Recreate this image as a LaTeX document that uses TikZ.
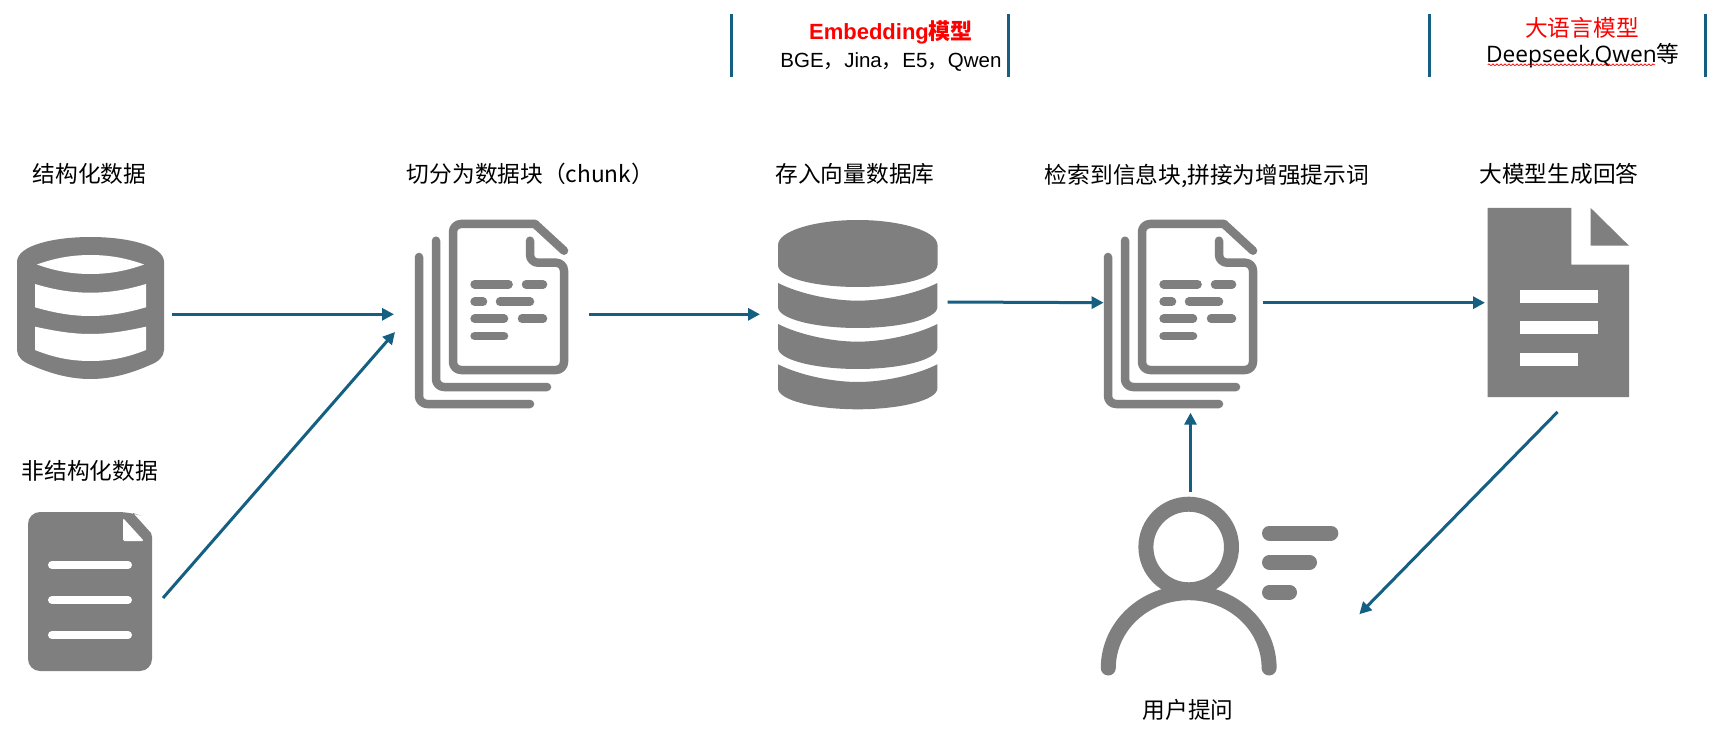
\documentclass[tikz,border=0pt]{standalone}
\usepackage{fontspec}
\setmainfont{Noto Sans CJK SC}
\newfontfamily\arf{Liberation Sans}
\newfontfamily\osf{Open Sans}
\usetikzlibrary{arrows.meta,decorations.pathmorphing}
\definecolor{flow}{HTML}{156082}
\definecolor{icon}{HTML}{7F7F7F}
\tikzset{
  flowline/.style={draw=flow,line width=3pt,-{Triangle[length=12pt,width=12pt]}},
  divider/.style={draw=flow,line width=3pt},
  iconline/.style={draw=icon,line width=8.5pt,line cap=round,line join=round},
  label/.style={inner sep=0pt,anchor=base,text=black,font=\fontsize{22.7}{27}\selectfont},
  redlabel/.style={label,text=red},
  pics/docstack/.style={code={
    \begin{scope}[yscale=-1]
    \draw[iconline,rounded corners=8pt] (117,40.7) -- (117,62.7) -- (151,62.7) -- (151,170) -- (40,170) -- (40,24) -- (122,24);
    \draw[iconline] (122,24) -- (151,50.7);
    \draw[iconline,rounded corners=8pt] (23,40.7) -- (23,187) -- (134,187);
    \draw[iconline,rounded corners=8pt] (6,57) -- (6,204) -- (117,204);
    \draw[iconline] (61.6,84.3) -- (95.6,84.3) (113,84.3) -- (130,84.3)
      (61.6,101.7) -- (70,101.7) (87,101.7) -- (117,101.7)
      (61.6,118.7) -- (91,118.7) (109,118.7) -- (130,118.7)
      (61.6,136) -- (91,136);
    \end{scope}
  }},
  pics/dbband/.style={code={
    \begin{scope}[yscale=-1]
    \fill[icon] (-79.7,0) .. controls (-58,11) and (-25,17.7) .. (0,17.7)
      .. controls (25,17.7) and (58,11) .. (79.7,0) -- (79.7,24)
      .. controls (79.7,36) and (42,45) .. (0,45)
      .. controls (-42,45) and (-79.7,36) .. (-79.7,24) -- cycle;
    \end{scope}
  }}
}
\begin{document}
\begin{tikzpicture}[x=1pt,y=1pt,yscale=-1]
\useasboundingbox (0,0) rectangle (1730,735);
\fill[white] (0,0) rectangle (1730,735);

% dividers
\coordinate (d1a) at (731.3,14.3); \coordinate (d1b) at (731.3,76.7);
\coordinate (d2a) at (1008.3,14.3); \coordinate (d2b) at (1008.3,76.7);
\coordinate (d3a) at (1429.3,14.3); \coordinate (d3b) at (1429.3,76.7);
\coordinate (d4a) at (1705.3,14.3); \coordinate (d4b) at (1705.3,76.7);
\draw[divider] (d1a) -- (d1b);
\draw[divider] (d2a) -- (d2b);
\draw[divider] (d3a) -- (d3b);
\draw[divider] (d4a) -- (d4b);

% header texts
\node[redlabel,font=\fontsize{22}{26}\bfseries\selectfont] (embedT) at (891,39.5) {{\arf Embedding}模型};
\node[label,font=\fontsize{20.5}{25}\selectfont] (embedS) at (891,67.5) {{\arf BGE}，{\arf Jina}，{\arf E5}，{\arf Qwen}};
\node[redlabel] (llmT) at (1582,36.5) {大语言模型};
\node[label] (llmS) at (1582.7,63) {{\osf Deepseek,Qwen}等};
\coordinate (wavea) at (1487.7,64.8); \coordinate (waveb) at (1655,64.8);
\draw[red,line width=.7pt,decorate,decoration={snake,segment length=4pt,amplitude=.9pt}] (wavea) -- (waveb);

% column titles
\node[label] (t1) at (89.6,183) {结构化数据};
\node[label] (t2) at (530.5,183) {切分为数据块（chunk）};
\node[label] (t3) at (855,183) {存入向量数据库};
\node[label] (t4) at (1207,184) {检索到信息块,拼接为增强提示词};
\node[label] (t5) at (1559,183) {大模型生成回答};
\node[label] (t6) at (89.7,479) {非结构化数据};
\node[label] (t7) at (1188,718) {用户提问};

% structured data icon
\fill[icon] (17,262) .. controls (17,245) and (55,237) .. (90.5,237)
  .. controls (126,237) and (164,245) .. (164,262) -- (164,350)
  .. controls (164,357) and (158,362) .. (150,365)
  .. controls (130,374) and (110,379) .. (90.5,379)
  .. controls (71,379) and (51,374) .. (31,365)
  .. controls (23,362) and (17,357) .. (17,350) -- cycle;
\fill[white] (37,264.5) .. controls (55,258) and (72,255) .. (90.5,255)
  .. controls (109,255) and (126,258) .. (144,264.5)
  .. controls (126,271) and (109,274) .. (90.5,274)
  .. controls (72,274) and (55,271) .. (37,264.5) -- cycle;
\fill[white] (35,284) .. controls (55,290) and (72,292.7) .. (90.5,292.7)
  .. controls (109,292.7) and (126,290) .. (146,284) -- (146,307.3)
  .. controls (126,313) and (109,316) .. (90.5,316)
  .. controls (72,316) and (55,313) .. (35,307.3) -- cycle;
\fill[white] (35,326.7) .. controls (55,331) and (72,334) .. (90.5,334)
  .. controls (109,334) and (126,331) .. (146,326.7) -- (146,350)
  .. controls (126,358) and (109,361) .. (90.5,361)
  .. controls (72,361) and (55,358) .. (35,350) -- cycle;

% unstructured doc icon
\fill[icon,rounded corners=12pt] (28,512) -- (130,512) [sharp corners] -- (133,513) -- (151,533) -- (152,537) [rounded corners=12pt] -- (152,671) -- (28,671) -- cycle;
\fill[white,rounded corners=1.5pt] (123,518) -- (144,541) -- (123,541) -- cycle;
\draw[white,line width=8pt,line cap=round] (52,565) -- (128,565) (52,600) -- (128,600) (52,635) -- (128,635);

% stacks
\pic at (413,200) {docstack};
\pic at (1102,200) {docstack};

% vector database
\fill[icon] (778,245) .. controls (778,231) and (815,220) .. (857.7,220)
  .. controls (900,220) and (937.5,231) .. (937.5,245) -- (937.5,265)
  .. controls (937.5,278) and (900,287) .. (857.7,287)
  .. controls (815,287) and (778,278) .. (778,265) -- cycle;
\pic at (857.7,283) {dbband};
\pic at (857.7,324) {dbband};
\pic at (857.7,364.3) {dbband};

% answer doc
\fill[icon] (1487.5,208) -- (1571.4,208) -- (1571.4,264.7) -- (1629,264.7) -- (1629,397) -- (1487.5,397) -- cycle;
\fill[icon] (1590.7,208) -- (1629,245.7) -- (1590.7,245.7) -- cycle;
\fill[white] (1519.6,290) rectangle (1597.5,302.7);
\fill[white] (1519.6,321.3) rectangle (1597.5,334);
\fill[white] (1519.6,353) rectangle (1577.9,365.7);

% user
\draw[icon,line width=15pt] (1188.7,547) circle (42.8);
\draw[icon,line width=15pt,line cap=round] (1108.3,668) arc[start angle=180,end angle=360,x radius=80.4,y radius=75.3];
\draw[icon,line width=15pt,line cap=round] (1269.5,533) -- (1330.8,533) (1269.5,562.3) -- (1309.5,562.3) (1269.5,592.3) -- (1289.5,592.3);

% connectors
\coordinate (a1s) at (172,314.3); \coordinate (a1e) at (394,314.3);
\coordinate (a2s) at (163,598); \coordinate (a2e) at (395,332);
\coordinate (a3s) at (589,314.3); \coordinate (a3e) at (760,314.3);
\coordinate (a4s) at (947.5,302); \coordinate (a4e) at (1103.6,302.7);
\coordinate (a5s) at (1263,302.7); \coordinate (a5e) at (1485,302.7);
\coordinate (a6s) at (1190.5,491.7); \coordinate (a6e) at (1190.5,412.7);
\coordinate (a7s) at (1557.5,412); \coordinate (a7e) at (1359.3,614.3);
\draw[flowline] (a1s) -- (a1e);
\draw[flowline] (a2s) -- (a2e);
\draw[flowline] (a3s) -- (a3e);
\draw[flowline] (a4s) -- (a4e);
\draw[flowline] (a5s) -- (a5e);
\draw[flowline] (a6s) -- (a6e);
\draw[flowline] (a7s) -- (a7e);
\end{tikzpicture}
\end{document}
